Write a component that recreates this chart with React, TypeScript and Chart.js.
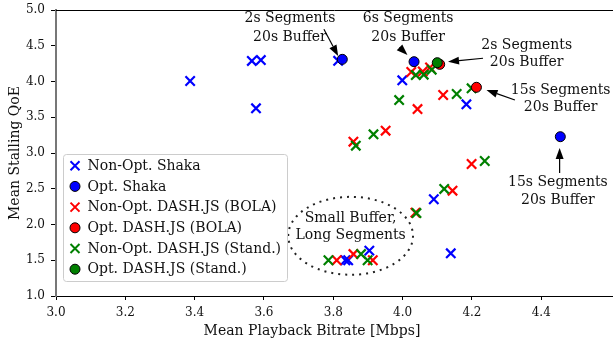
import React, { useEffect, useRef } from 'react';
import { Chart, registerables } from 'chart.js';

Chart.register(...registerables);

// ---- data (Mean Playback Bitrate [Mbps], Mean Stalling QoE) ----
const nonOptShakaX = [3.387, 3.565, 3.591, 3.577, 3.814, 3.999, 4.184, 4.09, 4.139, 3.835, 3.843, 3.904];
const nonOptShakaY = [4.007, 4.287, 4.3, 3.625, 4.29, 4.017, 3.681, 2.353, 1.597, 1.5, 1.5, 1.634];

const optShakaX = [3.826, 4.033, 4.455];
const optShakaY = [4.31, 4.277, 3.228];

const nonOptBolaX = [4.025, 4.058, 4.079, 4.117, 4.043, 3.951, 3.858, 4.199, 4.144, 4.037, 3.81, 3.858, 3.914];
const nonOptBolaY = [4.133, 4.14, 4.196, 3.811, 3.615, 3.312, 3.158, 2.846, 2.473, 2.165, 1.5, 1.587, 1.5];

const optBolaX = [4.107, 4.213];
const optBolaY = [4.24, 3.919];

const nonOptStandX = [4.038, 4.061, 4.084, 4.156, 4.199, 3.99, 3.916, 3.865, 4.237, 4.12, 4.04, 3.786, 3.88, 3.899];
const nonOptStandY = [4.09, 4.095, 4.165, 3.825, 3.905, 3.741, 3.262, 3.102, 2.888, 2.497, 2.16, 1.5, 1.587, 1.5];

const optStandX = [4.1];
const optStandY = [4.263];

const seriesNames = [
  'Non-Opt. Shaka',
  'Opt. Shaka',
  'Non-Opt. DASH.JS (BOLA)',
  'Opt. DASH.JS (BOLA)',
  'Non-Opt. DASH.JS (Stand.)',
  'Opt. DASH.JS (Stand.)',
];
const seriesColors = ['#0000ff', '#0000ff', '#ff0000', '#ff0000', '#008000', '#008000'];
const seriesIsCircle = [false, true, false, true, false, true];

const xTickValues = [3.0, 3.2, 3.4, 3.6, 3.8, 4.0, 4.2, 4.4];
const yTickValues = [1.0, 1.5, 2.0, 2.5, 3.0, 3.5, 4.0, 4.5, 5.0];

const xTitle = 'Mean Playback Bitrate [Mbps]';
const yTitle = 'Mean Stalling QoE';

// annotations: text lines, text centre (data units), arrow tail and head (data units)
const annLines = [
  ['2s Segments', '20s Buffer'],
  ['6s Segments', '20s Buffer'],
  ['2s Segments', '20s Buffer'],
  ['15s Segments', '20s Buffer'],
  ['15s Segments', '20s Buffer'],
];
const annTextX = [3.675, 4.016, 4.358, 4.456, 4.448];
const annTextY1 = [4.888, 4.888, 4.51, 3.881, 2.585];
const annTextY2 = [4.622, 4.622, 4.263, 3.643, 2.343];
const annTailX = [3.773, 3.997, 4.232, 4.324, 4.453];
const annTailY = [4.73, 4.45, 4.325, 3.741, 2.72];
const annHeadX = [3.814, 4.014, 4.131, 4.242, 4.453];
const annHeadY = [4.357, 4.371, 4.277, 3.881, 3.07];

const ellipseLines = ['Small Buffer,', 'Long Segments'];
const ellipseCenter = [3.85, 1.842];
const ellipseRadius = [0.18, 0.545];
const ellipseTextY = [2.087, 1.853];

const FONT = '"DejaVu Serif", serif';
const TEXT = '#111';

function toPoints(xs: number[], ys: number[]) {
  return xs.map((x, i) => ({ x, y: ys[i] }));
}

const seriesData = [
  toPoints(nonOptShakaX, nonOptShakaY),
  toPoints(optShakaX, optShakaY),
  toPoints(nonOptBolaX, nonOptBolaY),
  toPoints(optBolaX, optBolaY),
  toPoints(nonOptStandX, nonOptStandY),
  toPoints(optStandX, optStandY),
];

function drawMarker(ctx: CanvasRenderingContext2D, cx: number, cy: number, i: number) {
  ctx.save();
  if (seriesIsCircle[i]) {
    ctx.beginPath();
    ctx.arc(cx, cy, 5, 0, Math.PI * 2);
    ctx.fillStyle = seriesColors[i];
    ctx.fill();
    ctx.lineWidth = 1;
    ctx.strokeStyle = '#000';
    ctx.stroke();
  } else {
    ctx.beginPath();
    ctx.moveTo(cx - 4.5, cy - 4.5);
    ctx.lineTo(cx + 4.5, cy + 4.5);
    ctx.moveTo(cx - 4.5, cy + 4.5);
    ctx.lineTo(cx + 4.5, cy - 4.5);
    ctx.lineWidth = 2;
    ctx.strokeStyle = seriesColors[i];
    ctx.stroke();
  }
  ctx.restore();
}

function arrow(ctx: CanvasRenderingContext2D, x1: number, y1: number, x2: number, y2: number) {
  const ang = Math.atan2(y2 - y1, x2 - x1);
  const hl = 11;
  const hw = 4;
  const bx = x2 - hl * Math.cos(ang);
  const by = y2 - hl * Math.sin(ang);
  ctx.beginPath();
  ctx.moveTo(x1, y1);
  ctx.lineTo(bx, by);
  ctx.lineWidth = 1.2;
  ctx.strokeStyle = '#000';
  ctx.stroke();
  ctx.beginPath();
  ctx.moveTo(x2, y2);
  ctx.lineTo(bx + hw * Math.sin(ang), by - hw * Math.cos(ang));
  ctx.lineTo(bx - hw * Math.sin(ang), by + hw * Math.cos(ang));
  ctx.closePath();
  ctx.fillStyle = '#000';
  ctx.fill();
}

const overlayPlugin = {
  id: 'overlay',
  afterDraw(chart: any) {
    const { ctx, chartArea } = chart;
    const xs = chart.scales.x;
    const ys = chart.scales.y;
    ctx.save();
    // top spine
    ctx.beginPath();
    ctx.moveTo(chartArea.left, Math.round(chartArea.top) + 0.5);
    ctx.lineTo(chart.width, Math.round(chartArea.top) + 0.5);
    ctx.lineWidth = 1;
    ctx.strokeStyle = '#000';
    ctx.stroke();

    // x title
    ctx.fillStyle = TEXT;
    ctx.font = `14px ${FONT}`;
    ctx.textAlign = 'center';
    ctx.textBaseline = 'middle';
    ctx.fillText(xTitle, 312, 331);

    // annotations
    for (let i = 0; i < annLines.length; i++) {
      const tx = xs.getPixelForValue(annTextX[i]);
      ctx.fillStyle = TEXT;
      ctx.fillText(annLines[i][0], tx, ys.getPixelForValue(annTextY1[i]));
      ctx.fillText(annLines[i][1], tx, ys.getPixelForValue(annTextY2[i]));
      arrow(
        ctx,
        xs.getPixelForValue(annTailX[i]),
        ys.getPixelForValue(annTailY[i]),
        xs.getPixelForValue(annHeadX[i]),
        ys.getPixelForValue(annHeadY[i])
      );
    }

    // ellipse
    const ecx = xs.getPixelForValue(ellipseCenter[0]);
    const ecy = ys.getPixelForValue(ellipseCenter[1]);
    const erx = xs.getPixelForValue(ellipseCenter[0] + ellipseRadius[0]) - ecx;
    const ery = ecy - ys.getPixelForValue(ellipseCenter[1] + ellipseRadius[1]);
    ctx.beginPath();
    ctx.ellipse(ecx, ecy, erx, ery, 0, 0, Math.PI * 2);
    ctx.setLineDash([2, 5]);
    ctx.lineWidth = 2;
    ctx.strokeStyle = '#222';
    ctx.stroke();
    ctx.setLineDash([]);
    ctx.fillStyle = TEXT;
    ctx.fillText(ellipseLines[0], ecx, ys.getPixelForValue(ellipseTextY[0]));
    ctx.fillText(ellipseLines[1], ecx, ys.getPixelForValue(ellipseTextY[1]));

    // legend
    const lx = 63.5, ly = 154.5, lw = 224, lh = 127;
    ctx.beginPath();
    ctx.roundRect(lx, ly, lw, lh, 3);
    ctx.fillStyle = 'rgba(255,255,255,0.8)';
    ctx.fill();
    ctx.strokeStyle = '#cccccc';
    ctx.lineWidth = 1;
    ctx.stroke();
    ctx.textAlign = 'left';
    ctx.textBaseline = 'middle';
    ctx.font = `14px ${FONT}`;
    for (let i = 0; i < seriesNames.length; i++) {
      const ry = 165.7 + i * 20.7;
      drawMarker(ctx, 75, ry, i);
      ctx.fillStyle = TEXT;
      ctx.fillText(seriesNames[i], 87.5, ry + 0.5);
    }
    ctx.restore();
  },
};

export default function App() {
  const ref = useRef<HTMLCanvasElement | null>(null);
  useEffect(() => {
    const canvas = ref.current;
    if (!canvas) return;
    Chart.defaults.font.family = FONT;
    Chart.defaults.color = TEXT;
    const datasets = seriesData.map((data, i) => ({
      label: seriesNames[i],
      data,
      pointStyle: seriesIsCircle[i] ? 'circle' : 'crossRot',
      pointRadius: seriesIsCircle[i] ? 5 : 6.6,
      pointHoverRadius: seriesIsCircle[i] ? 5 : 6.6,
      backgroundColor: seriesColors[i],
      borderColor: seriesIsCircle[i] ? '#000' : seriesColors[i],
      pointBorderWidth: seriesIsCircle[i] ? 1 : 2.2,
      borderWidth: seriesIsCircle[i] ? 1 : 2.2,
      showLine: false,
      clip: false,
      order: seriesIsCircle[i] ? 3 - Math.floor(i / 2) : 6 - Math.floor(i / 2),
    }));
    const chart = new Chart(canvas, {
      type: 'scatter',
      data: { datasets },
      options: {
        animation: false,
        responsive: false,
        maintainAspectRatio: false,
        layout: { autoPadding: false, padding: { top: 10, right: 0, left: 0, bottom: 0 } },
        plugins: { legend: { display: false }, tooltip: { enabled: false } },
        scales: {
          x: {
            type: 'linear',
            min: 3.0,
            max: 4.607,
            afterBuildTicks: (scale: any) => {
              scale.ticks = xTickValues.map((v) => ({ value: v }));
            },
            afterFit: (scale: any) => {
              scale.height = 49;
              scale.paddingLeft = 0;
              scale.paddingRight = 0;
            },
            ticks: {
              font: { size: 12 },
              color: TEXT,
              padding: 6,
              maxRotation: 0,
              autoSkip: false,
              callback: (v: any) => Number(v).toFixed(1),
            },
            grid: { display: true, drawOnChartArea: false, tickLength: 4, color: '#000', tickWidth: 1 },
            border: { display: true, color: '#000', width: 1 },
          },
          y: {
            type: 'linear',
            min: 1.0,
            max: 5.0,
            afterBuildTicks: (scale: any) => {
              scale.ticks = yTickValues.map((v) => ({ value: v }));
            },
            afterFit: (scale: any) => {
              scale.width = 56;
              scale.paddingTop = 0;
              scale.paddingBottom = 0;
            },
            ticks: {
              font: { size: 12 },
              color: TEXT,
              padding: 6,
              autoSkip: false,
              callback: (v: any) => Number(v).toFixed(1),
            },
            title: { display: true, text: yTitle, font: { size: 14 }, color: TEXT, padding: { top: 7, bottom: 0 } },
            grid: { display: true, drawOnChartArea: false, tickLength: 5, color: '#000', tickWidth: 1 },
            border: { display: true, color: '#777', width: 2 },
          },
        },
      },
      plugins: [overlayPlugin],
    });
    return () => chart.destroy();
  }, []);
  return (
    <div style={{ position: 'absolute', left: 0, top: 0, width: 613, height: 345, background: '#fff' }}>
      <canvas ref={ref} width={613} height={345} style={{ width: 613, height: 345, display: 'block' }} />
    </div>
  );
}
